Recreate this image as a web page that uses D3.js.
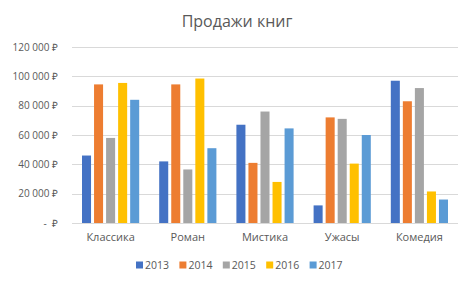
<!DOCTYPE html>
<html>
<head>
<meta charset="utf-8">
<title>Продажи книг</title>
<script src="https://d3js.org/d3.v7.min.js"></script>
<style>
  body { margin: 0; background: #fff; }
  text { font-family: "Open Sans", "Noto Sans", sans-serif; fill: #595959; }
</style>
</head>
<body>
<script>
    var categories = ["Классика", "Роман", "Мистика", "Ужасы", "Комедия"];
    var years = ["2013", "2014", "2015", "2016", "2017"];
    var sales2013 = [46000, 42000, 67000, 12000, 97000];
    var sales2014 = [94500, 94500, 41000, 72000, 83000];
    var sales2015 = [58000, 36500, 76000, 71000, 92000];
    var sales2016 = [95500, 98500, 28000, 40500, 21500];
    var sales2017 = [84000, 51000, 64500, 60000, 16000];
    var yTicks = [0, 20000, 40000, 60000, 80000, 100000, 120000];
    var colors = ["#4472C4", "#ED7D31", "#A5A5A5", "#FFC000", "#5B9BD5"];

    var series = [sales2013, sales2014, sales2015, sales2016, sales2017];

    var width = 474, height = 285;
    var margin = {top: 47, right: 16, bottom: 62, left: 72};
    var plotW = width - margin.left - margin.right;
    var plotH = height - margin.top - margin.bottom;

    var svg = d3.select("body").append("svg")
                .attr("width", width)
                .attr("height", height);

    svg.append("text")
       .attr("x", width / 2)
       .attr("y", 27)
       .attr("text-anchor", "middle")
       .style("font-size", "16px")
       .text("Продажи книг");

    var g = svg.append("g")
               .attr("transform", "translate(" + margin.left + "," + margin.top + ")");

    var x0 = d3.scaleBand().domain(categories).range([0, plotW]);
    var x1 = d3.scaleBand().domain(years)
               .range([10, x0.bandwidth() - 10])
               .paddingInner(0.25);
    var y = d3.scaleLinear().domain([0, 120000]).range([plotH, 0]);

    // gridlines
    g.selectAll(".grid").data(yTicks).enter()
     .append("line")
     .attr("x1", 0).attr("x2", plotW)
     .attr("y1", function(d){ return Math.round(y(d)) + 0.5; })
     .attr("y2", function(d){ return Math.round(y(d)) + 0.5; })
     .attr("stroke", "#d9d9d9");

    var fmt = function(d){
        if (d === 0) return "-  ₽";
        return d3.format(",")(d).replace(/,/g, " ") + " ₽";
    };

    var yAxis = d3.axisLeft(y).tickValues(yTicks).tickFormat(fmt).tickSize(0).tickPadding(14);
    var ya = g.append("g").call(yAxis);
    ya.select(".domain").remove();
    ya.selectAll("text")
      .attr("xml:space", "preserve")
      .style("font-size", "10px")
      .style("font-family", "\"Open Sans\", sans-serif")
      .attr("fill", "#595959");

    var groups = g.selectAll(".cat").data(categories).enter()
                  .append("g")
                  .attr("transform", function(d){ return "translate(" + x0(d) + ",0)"; });

    groups.selectAll("rect")
          .data(function(d, i){ return series.map(function(s, j){ return {year: years[j], v: s[i], c: colors[j]}; }); })
          .enter()
          .append("rect")
          .attr("x", function(d){ return x1(d.year); })
          .attr("width", x1.bandwidth())
          .attr("y", function(d){ return y(d.v); })
          .attr("height", function(d){ return plotH - y(d.v); })
          .attr("fill", function(d){ return d.c; });

    var xAxis = d3.axisBottom(x0).tickSize(0).tickPadding(10);
    var xa = g.append("g").attr("transform", "translate(0," + plotH + ")").call(xAxis);
    xa.select(".domain").remove();
    xa.selectAll("text")
      .style("font-size", "11px")
      .style("font-family", "\"Open Sans\", sans-serif")
      .attr("fill", "#595959");

    // legend
    var legend = svg.append("g").attr("transform", "translate(136,265)");
    var item = legend.selectAll(".leg").data(years).enter()
                     .append("g")
                     .attr("transform", function(d, i){ return "translate(" + (i * 43.4) + ",0)"; });
    item.append("rect")
        .attr("x", 0).attr("y", -3.5)
        .attr("width", 7).attr("height", 7)
        .attr("fill", function(d, i){ return colors[i]; });
    item.append("text")
        .attr("x", 9).attr("y", 0)
        .attr("dy", "0.35em")
        .style("font-size", "10.5px")
        .text(function(d){ return d; });
</script>
</body>
</html>
